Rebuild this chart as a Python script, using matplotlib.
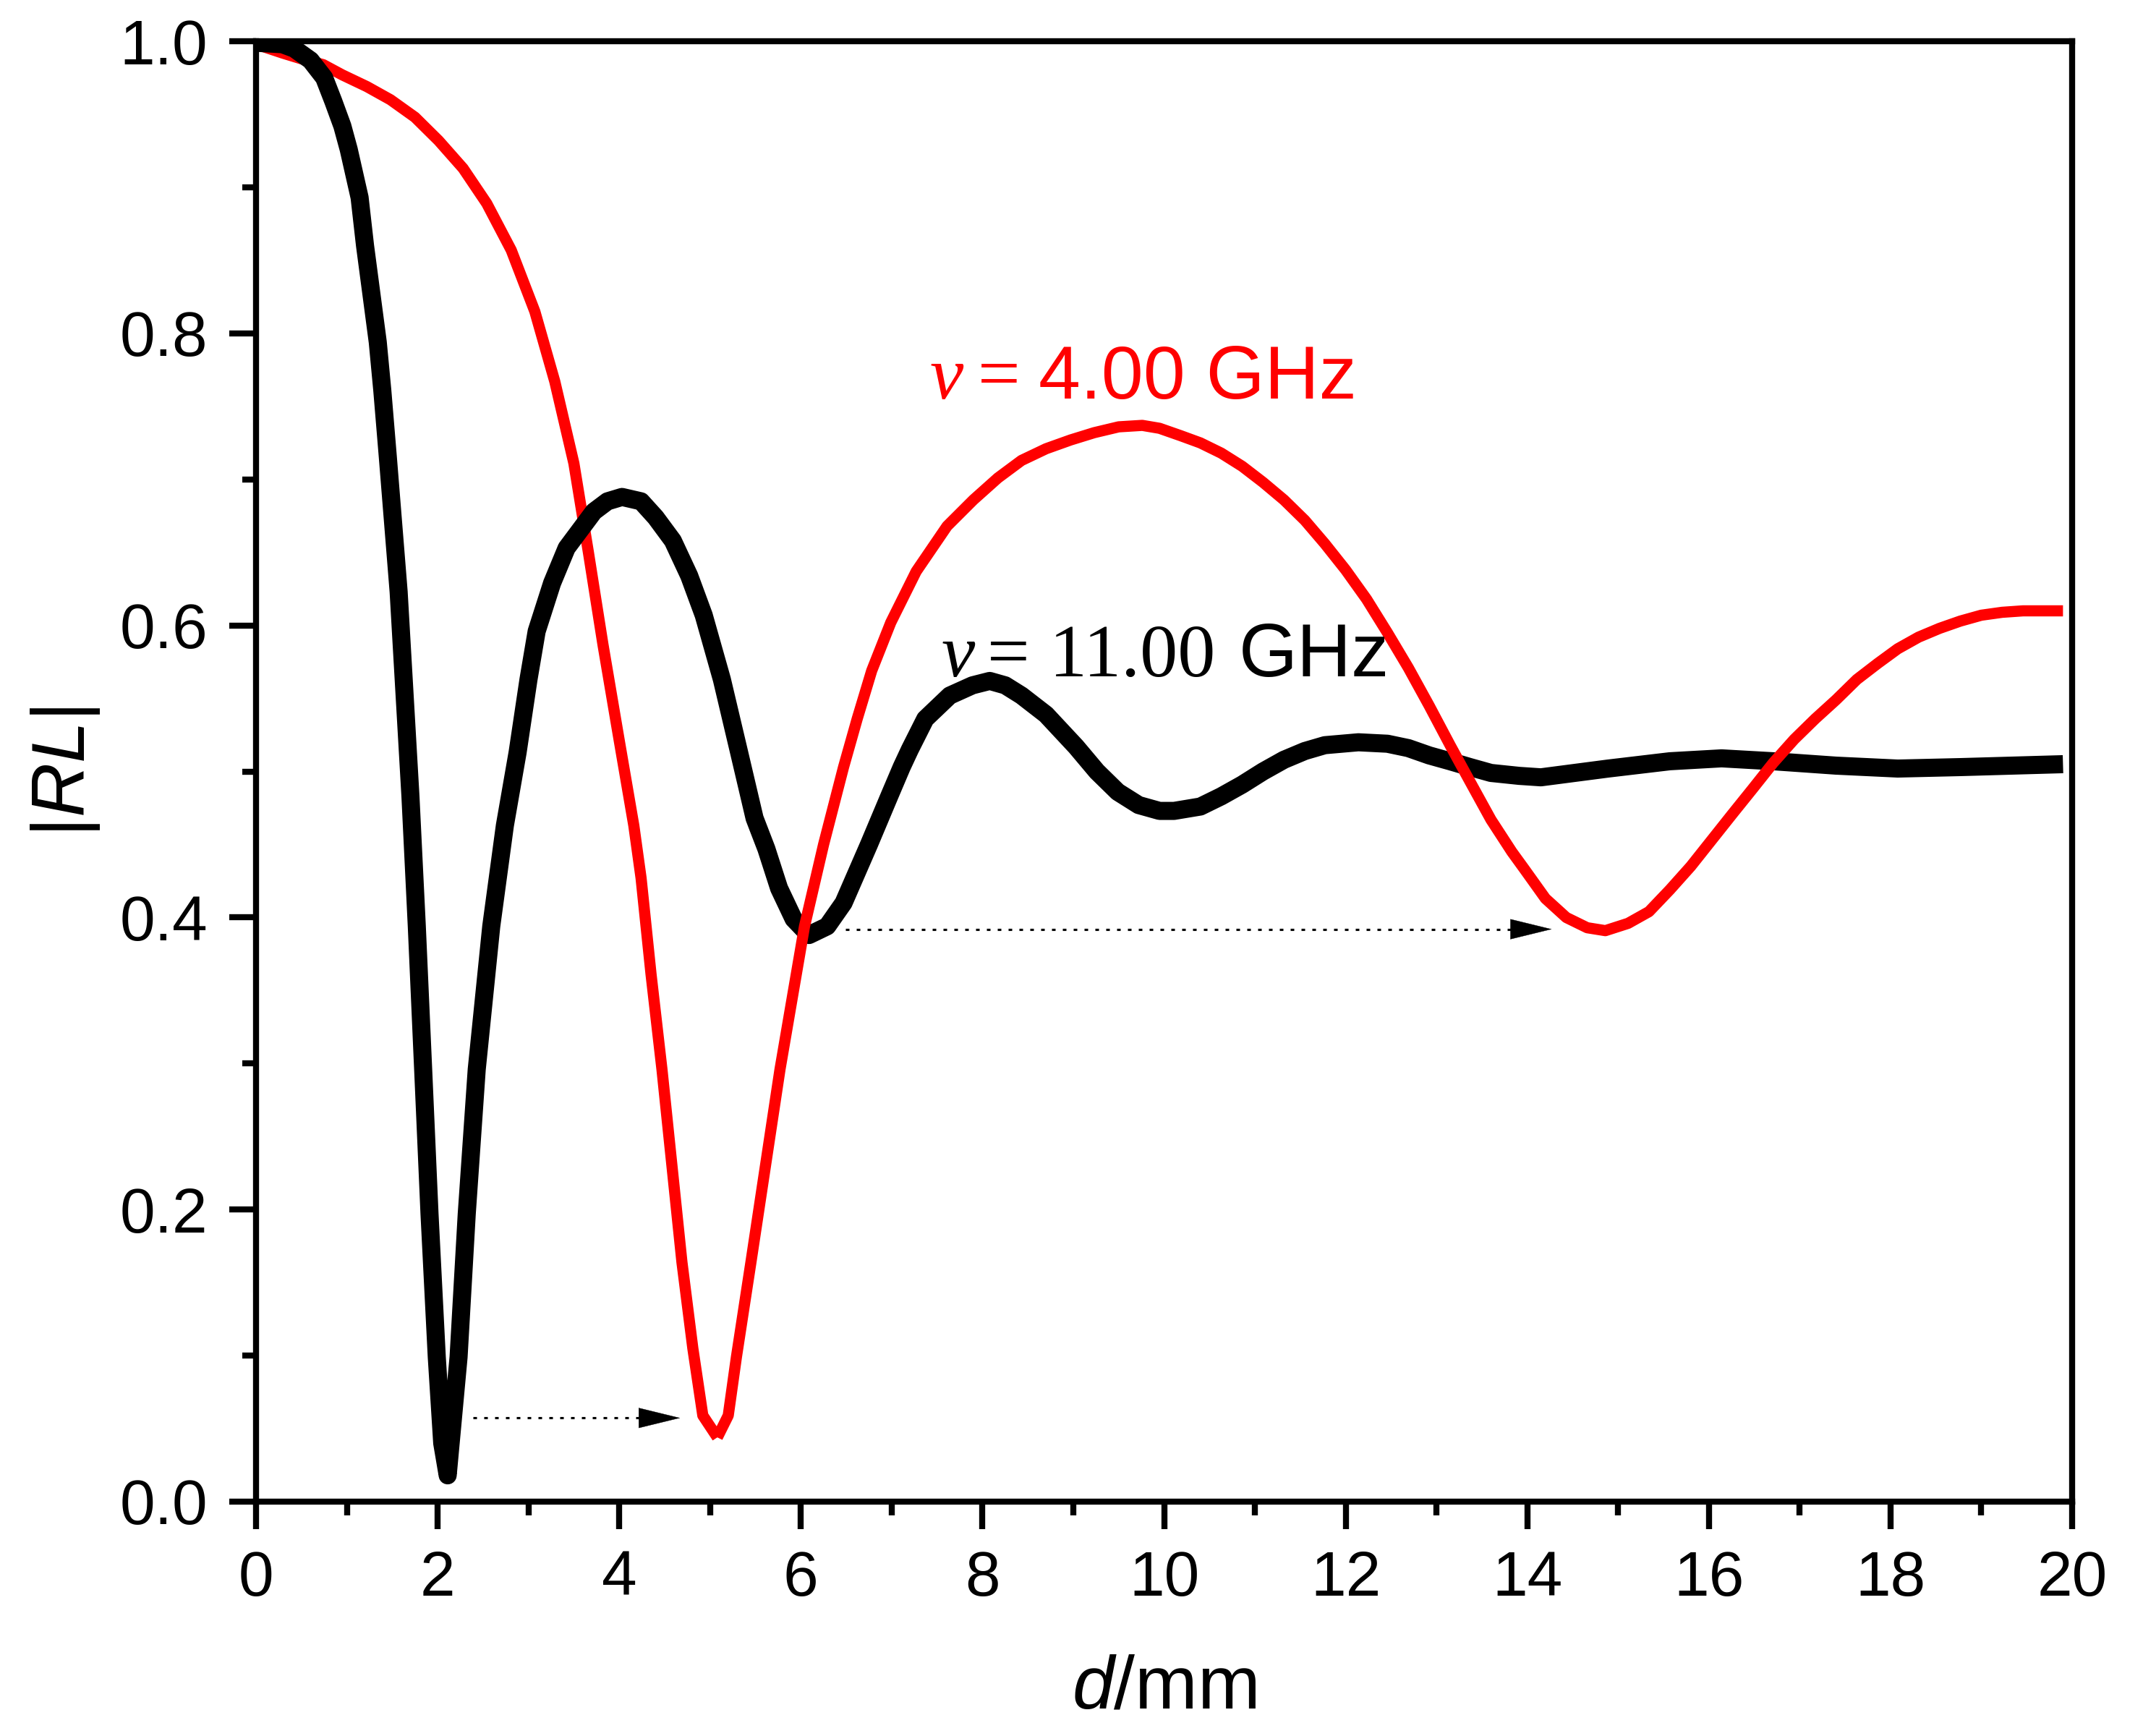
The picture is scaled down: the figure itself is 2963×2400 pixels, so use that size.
import matplotlib
matplotlib.use("Agg")
import matplotlib.pyplot as plt
from matplotlib.ticker import MultipleLocator, FormatStrFormatter

# |RL| versus layer thickness d (mm)
d_11 = [0.0, 0.29, 0.42, 0.60, 0.75, 0.85, 0.95, 1.02, 1.14, 1.20, 1.27, 1.34,
        1.39, 1.45, 1.57, 1.70, 1.77, 1.84, 1.91, 1.99, 2.05, 2.11, 2.23, 2.32,
        2.43, 2.59, 2.74, 2.88, 3.00, 3.09, 3.26, 3.42, 3.60, 3.72, 3.87, 4.03,
        4.24, 4.40, 4.59, 4.77, 4.93, 5.13, 5.32, 5.49, 5.62, 5.76, 5.92, 6.09,
        6.29, 6.47, 6.75, 6.98, 7.11, 7.20, 7.37, 7.64, 7.89, 8.08, 8.25, 8.43,
        8.70, 9.03, 9.26, 9.49, 9.72, 9.95, 10.11, 10.40, 10.63, 10.86, 11.09,
        11.32, 11.55, 11.77, 12.14, 12.46, 12.69, 12.92, 13.15, 13.37, 13.60,
        13.91, 14.15, 14.89, 15.57, 16.14, 16.71, 17.40, 18.08, 18.77, 19.90]
rl_11 = [0.999, 0.998, 0.995, 0.987, 0.975, 0.959, 0.942, 0.926, 0.893, 0.860,
         0.827, 0.794, 0.761, 0.716, 0.623, 0.483, 0.394, 0.296, 0.197, 0.099,
         0.040, 0.018, 0.099, 0.197, 0.296, 0.394, 0.463, 0.513, 0.563, 0.596,
         0.629, 0.653, 0.668, 0.678, 0.685, 0.688, 0.685, 0.674, 0.658, 0.634,
         0.607, 0.563, 0.513, 0.468, 0.447, 0.420, 0.399, 0.388, 0.394, 0.410,
         0.450, 0.484, 0.503, 0.515, 0.536, 0.552, 0.559, 0.562, 0.559, 0.552,
         0.539, 0.517, 0.500, 0.486, 0.477, 0.473, 0.473, 0.476, 0.483, 0.491,
         0.500, 0.508, 0.514, 0.518, 0.520, 0.519, 0.516, 0.511, 0.507, 0.503,
         0.499, 0.497, 0.496, 0.502, 0.507, 0.509, 0.507, 0.504, 0.502, 0.503,
         0.505]

d_4 = [0.0, 0.29, 0.50, 0.74, 0.95, 1.22, 1.48, 1.75, 2.01, 2.28, 2.54, 2.81,
       3.07, 3.29, 3.50, 3.66, 3.82, 4.00, 4.16, 4.24, 4.35, 4.47, 4.58, 4.69,
       4.81, 4.92, 5.08, 5.20, 5.29, 5.45, 5.61, 5.77, 6.04, 6.25, 6.47, 6.62,
       6.78, 6.99, 7.27, 7.61, 7.90, 8.17, 8.43, 8.70, 8.97, 9.23, 9.50, 9.76,
       9.95, 10.18, 10.40, 10.63, 10.86, 11.09, 11.32, 11.55, 11.77, 12.00,
       12.23, 12.46, 12.69, 12.92, 13.15, 13.37, 13.60, 13.83, 13.97, 14.20,
       14.43, 14.66, 14.86, 15.11, 15.34, 15.57, 15.80, 16.03, 16.26, 16.48,
       16.71, 16.94, 17.17, 17.40, 17.63, 17.86, 18.08, 18.31, 18.54, 18.77,
       19.00, 19.23, 19.46, 19.90]
rl_4 = [0.998, 0.992, 0.988, 0.984, 0.977, 0.969, 0.960, 0.948, 0.932, 0.913,
        0.889, 0.857, 0.815, 0.767, 0.711, 0.650, 0.587, 0.521, 0.463, 0.427,
        0.361, 0.296, 0.230, 0.164, 0.105, 0.059, 0.044, 0.059, 0.099, 0.164,
        0.230, 0.296, 0.394, 0.450, 0.503, 0.536, 0.569, 0.602, 0.637, 0.668,
        0.686, 0.701, 0.713, 0.721, 0.727, 0.732, 0.736, 0.737, 0.735, 0.730,
        0.725, 0.718, 0.709, 0.698, 0.686, 0.672, 0.656, 0.638, 0.618, 0.595,
        0.571, 0.545, 0.518, 0.493, 0.467, 0.445, 0.433, 0.413, 0.400, 0.393,
        0.391, 0.396, 0.404, 0.419, 0.435, 0.453, 0.471, 0.488, 0.506, 0.522,
        0.536, 0.549, 0.563, 0.574, 0.584, 0.592, 0.598, 0.603, 0.607, 0.609,
        0.610, 0.610]

# shift arrows: (start x, tip x, y)
arrows = [(2.39, 4.67, 0.0573), (6.49, 14.27, 0.392)]

plt.rcParams["font.family"] = "Liberation Sans"
plt.rcParams["mathtext.fontset"] = "custom"
plt.rcParams["mathtext.rm"] = "Liberation Sans"
plt.rcParams["mathtext.it"] = "Liberation Sans:italic"

fig = plt.figure(figsize=(2963 / 300, 2400 / 300), dpi=300)
ax = fig.add_axes([0.1195, 0.135, 0.8474, 0.8412])

# red curve: first dip sits under the black line, the rest above it
n = d_4.index(5.08) + 1
ax.plot(d_4[:n], rl_4[:n], color="#ff0000", lw=3.7, solid_capstyle="butt",
        zorder=1)
ax.plot(d_4[n - 1:], rl_4[n - 1:], color="#ff0000", lw=3.7,
        solid_capstyle="butt", zorder=3)
ax.plot(d_11, rl_11, color="black", lw=6.0, solid_capstyle="butt",
        solid_joinstyle="round", zorder=2)

head_len = 0.446  # 13.5 pt in data units
for x0, x1, y in arrows:
    ax.plot([x0, x1 - head_len], [y, y], color="black", lw=0.75,
            ls=(0, (1.6, 3.2)), zorder=4)
    ax.annotate("", xy=(x1, y), xytext=(x1 - head_len, y),
                arrowprops=dict(arrowstyle="-|>,head_length=1.35,head_width=0.33",
                                color="black", lw=0.1, shrinkA=0, shrinkB=0,
                                mutation_scale=10), zorder=4)

serif = "Liberation Serif"
sans = "Liberation Sans"
fs = 25
# nu = 4.00 GHz
ax.text(7.42, 0.7556, "ν", family=serif, style="italic", fontsize=fs,
        color="#ff0000", va="baseline")
ax.text(7.95, 0.7556, "=", family=serif, fontsize=fs, color="#ff0000", va="baseline")
ax.text(8.62, 0.7556, "4.00 GHz", family=sans, fontsize=fs, color="#ff0000",
        va="baseline")
# nu = 11.00 GHz
ax.text(7.55, 0.565, "ν", family=serif, style="italic", fontsize=fs,
        color="black", va="baseline")
ax.text(8.05, 0.565, "=", family=serif, fontsize=fs, color="black", va="baseline")
ax.text(8.74, 0.565, "11.00", family=serif, fontsize=fs, color="black",
        va="baseline")
ax.text(10.82, 0.565, "GHz", family=sans, fontsize=fs, color="black",
        va="baseline")

ax.set_xlim(0, 20)
ax.set_ylim(0, 1.0)
ax.xaxis.set_major_locator(MultipleLocator(2))
ax.xaxis.set_minor_locator(MultipleLocator(1))
ax.yaxis.set_major_locator(MultipleLocator(0.2))
ax.yaxis.set_minor_locator(MultipleLocator(0.1))
ax.yaxis.set_major_formatter(FormatStrFormatter("%.1f"))

for sp in ax.spines.values():
    sp.set_linewidth(2)
ax.tick_params(which="major", direction="out", length=9, width=2,
               labelsize=21, pad=7)
ax.tick_params(which="minor", direction="out", length=4.5, width=2)

ax.set_xlabel(r"$d$/mm", fontsize=25, labelpad=15)
ax.set_ylabel(r"|$RL$|", fontsize=25, labelpad=6)

fig.savefig("out.png", dpi=300)
